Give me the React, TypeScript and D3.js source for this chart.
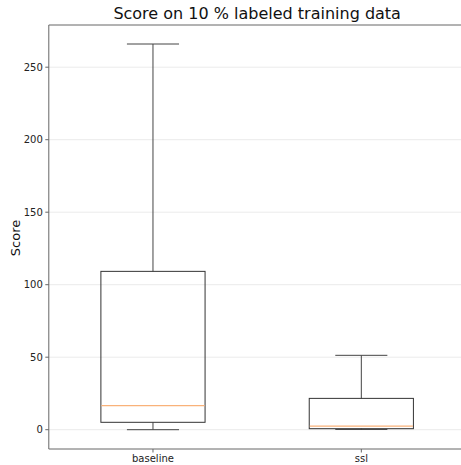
import React from "react";
import * as d3 from "d3";

const categories = ["baseline", "ssl"];
const whiskerLow = [0, 0.2];
const q1 = [5.1, 0.7];
const median = [16.6, 2.5];
const q3 = [109.2, 21.6];
const whiskerHigh = [266, 51.3];
const yTicks = [0, 50, 100, 150, 200, 250];
const title = "Score on 10 % labeled training data";
const yLabel = "Score";

const W = 461, H = 465;
const margin = { left: 48.8, top: 25, right: 465.5, bottom: 449 };

export default function App() {
  const x = d3.scaleLinear().domain([0.5, 2.5]).range([margin.left, margin.right]);
  const y = d3.scaleLinear().domain([0, 250]).range([429.7, 67.2]);
  const boxW = x(1.5) - x(1);
  const capW = boxW / 2;
  const font = "DejaVu Sans, sans-serif";
  return (
    <svg width={W} height={H} style={{ position: "absolute", left: 0, top: 0 }} fontFamily={font}>
      <rect width={W} height={H} fill="#fff" />
      {yTicks.map((t) => (
        <line key={"g" + t} x1={margin.left} x2={W} y1={y(t)} y2={y(t)} stroke="#ebebeb" strokeWidth={1} />
      ))}
      {categories.map((c, i) => {
        const cx = x(i + 1);
        return (
          <g key={c}>
            <line x1={cx} x2={cx} y1={y(whiskerLow[i])} y2={y(q1[i])} stroke="#444" strokeWidth={1} />
            <line x1={cx} x2={cx} y1={y(q3[i])} y2={y(whiskerHigh[i])} stroke="#444" strokeWidth={1} />
            <line x1={cx - capW / 2} x2={cx + capW / 2} y1={y(whiskerLow[i])} y2={y(whiskerLow[i])} stroke="#444" strokeWidth={1} />
            <line x1={cx - capW / 2} x2={cx + capW / 2} y1={y(whiskerHigh[i])} y2={y(whiskerHigh[i])} stroke="#444" strokeWidth={1} />
            <rect x={cx - boxW / 2} y={y(q3[i])} width={boxW} height={y(q1[i]) - y(q3[i])} fill="none" stroke="#333" strokeWidth={1} />
            <line x1={cx - boxW / 2 + 0.5} x2={cx + boxW / 2 - 0.5} y1={y(median[i])} y2={y(median[i])} stroke="#f9b27a" strokeWidth={1.4} />
          </g>
        );
      })}
      <line x1={margin.left} x2={margin.left} y1={margin.top} y2={margin.bottom} stroke="#666" strokeWidth={1} />
      <line x1={margin.left} x2={W} y1={margin.top} y2={margin.top} stroke="#666" strokeWidth={1} />
      <line x1={margin.left} x2={W} y1={margin.bottom} y2={margin.bottom} stroke="#666" strokeWidth={1} />
      {yTicks.map((t) => (
        <g key={"t" + t}>
          <line x1={margin.left - 3.5} x2={margin.left} y1={y(t)} y2={y(t)} stroke="#666" />
          <text x={margin.left - 6} y={y(t)} dy="0.35em" textAnchor="end" fontSize={10} fill="#222">{t}</text>
        </g>
      ))}
      {categories.map((c, i) => (
        <g key={"x" + c}>
          <line x1={x(i + 1)} x2={x(i + 1)} y1={margin.bottom} y2={margin.bottom + 3.5} stroke="#666" />
          <text x={x(i + 1)} y={462} textAnchor="middle" fontSize={10} fill="#222">{c}</text>
        </g>
      ))}
      <text transform={`translate(20,238) rotate(-90)`} textAnchor="middle" fontSize={13} fill="#111">{yLabel}</text>
      <text x={(margin.left + margin.right) / 2} y={19} textAnchor="middle" fontSize={16} fill="#111">{title}</text>
    </svg>
  );
}
